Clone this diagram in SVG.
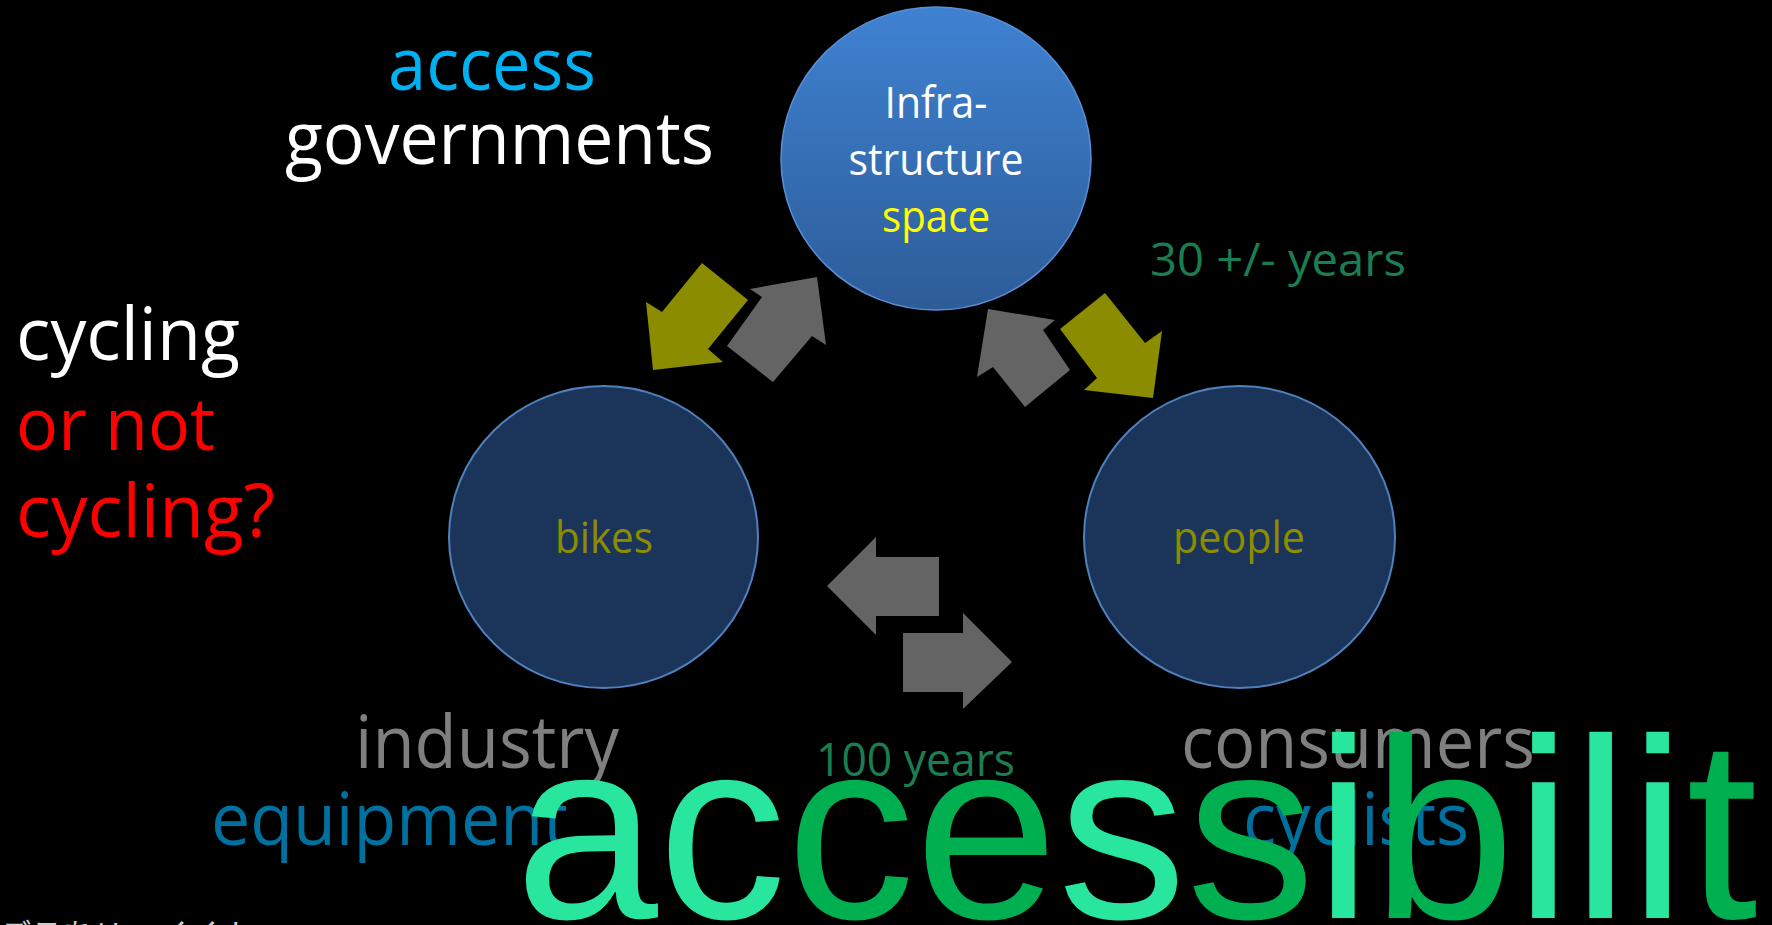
<svg xmlns="http://www.w3.org/2000/svg" width="1772" height="925" viewBox="0 0 1772 925">
<defs>
<linearGradient id="gInfra" x1="0" y1="0" x2="0" y2="1">
<stop offset="0" stop-color="#3F82D2"/>
<stop offset="1" stop-color="#2D5C98"/>
</linearGradient>
</defs>
<style>
.t{font-family:"Open Sans","Noto Sans","DejaVu Sans",sans-serif}
.big{font-family:"Liberation Sans",Arial,sans-serif;font-size:257px}
.L{fill:#28E69E}
.D{fill:#00B050}
.node{fill:#1B345A;stroke:#4F81BD;stroke-width:2}
.gray{fill:#646464}
.olive{fill:#8C8C00}
.lbl{font-size:44px}
.mid{text-anchor:middle}
</style>
<rect x="0" y="0" width="1772" height="925" fill="#000"/>

<g id="title-texts" class="t">
<text x="388" y="90" font-size="74" fill="#00B0F0" textLength="208" lengthAdjust="spacingAndGlyphs">access</text>
<text x="285" y="164" font-size="74" fill="#FFFFFF" textLength="429" lengthAdjust="spacingAndGlyphs">governments</text>
<text x="16" y="360" font-size="74" fill="#FFFFFF" textLength="224" lengthAdjust="spacingAndGlyphs">cycling</text>
<text x="16" y="450" font-size="74" fill="#FF0000" textLength="199" lengthAdjust="spacingAndGlyphs">or not</text>
<text x="16" y="537" font-size="74" fill="#FF0000" textLength="259" lengthAdjust="spacingAndGlyphs">cycling?</text>
</g>

<g id="node-infra">
<ellipse cx="936" cy="158.5" rx="155" ry="151.5" fill="url(#gInfra)" stroke="#5A8FD8" stroke-width="1.5"/>
<text class="t lbl mid" x="936" y="118" fill="#FFFFFF" textLength="103" lengthAdjust="spacingAndGlyphs">Infra-</text>
<text class="t lbl mid" x="936" y="175" fill="#FFFFFF" textLength="175" lengthAdjust="spacingAndGlyphs">structure</text>
<text class="t lbl mid" x="936" y="232" fill="#FFFF00" textLength="108" lengthAdjust="spacingAndGlyphs">space</text>
</g>

<g id="node-bikes">
<ellipse class="node" cx="603.5" cy="537" rx="154.5" ry="151"/>
<text class="t mid" x="604" y="553" font-size="43" fill="#8C8C00" textLength="98" lengthAdjust="spacingAndGlyphs">bikes</text>
</g>

<g id="node-people">
<ellipse class="node" cx="1239.5" cy="537" rx="155.5" ry="151"/>
<text class="t mid" x="1239" y="553" font-size="43" fill="#8C8C00" textLength="132" lengthAdjust="spacingAndGlyphs">people</text>
</g>

<g id="connectors">
<polygon class="olive" points="653,370 646,302 662,312 702,263 748,300 708,349 723,362"/>
<polygon class="gray" points="817,277 750,289 762,297 727,346 773,382 812,336 826,345"/>
<polygon class="gray" points="988,309 1055,320 1043,330 1070,370 1025,407 993,367 977,377"/>
<polygon class="olive" points="1105,293 1060,329 1097,378 1084,390 1153,398 1162,331 1145,343"/>
<polygon class="gray" points="827,586 876,537 876,557 939,557 939,616 876,616 876,635"/>
<polygon class="gray" points="903,633 963,633 963,613 1012,662 963,709 963,692 903,692"/>
</g>

<g id="side-labels" class="t">
<text x="1150" y="276" font-size="46" fill="#1A7E52" textLength="256" lengthAdjust="spacingAndGlyphs">30 +/- years</text>
<text x="816" y="776" font-size="46" fill="#1A7E52" textLength="199" lengthAdjust="spacingAndGlyphs">100 years</text>
<text x="355" y="768" font-size="74" fill="#7F7F7F" textLength="264" lengthAdjust="spacingAndGlyphs">industry</text>
<text x="211" y="845" font-size="74" fill="#00709F" textLength="357" lengthAdjust="spacingAndGlyphs">equipment</text>
<text x="1181" y="768" font-size="74" fill="#7F7F7F" textLength="354" lengthAdjust="spacingAndGlyphs">consumers</text>
<text x="1243" y="845" font-size="74" fill="#00709F" textLength="226" lengthAdjust="spacingAndGlyphs">cyclists</text>
</g>

<g id="big-word">
<text class="big" x="515" y="918"><tspan class="L">a</tspan><tspan class="L">c</tspan><tspan class="D">c</tspan><tspan class="D">e</tspan><tspan class="L">s</tspan><tspan class="D">s</tspan><tspan class="L">i</tspan><tspan class="D">b</tspan><tspan class="L">i</tspan><tspan class="L">l</tspan><tspan class="L">i</tspan><tspan class="D">t</tspan></text>
</g>

<g id="clipped-caption">
<text x="0" y="946" font-family="'Noto Sans CJK JP',sans-serif" font-size="31" fill="#D0D0D0">デテあリー くぐト</text>
</g>
</svg>
